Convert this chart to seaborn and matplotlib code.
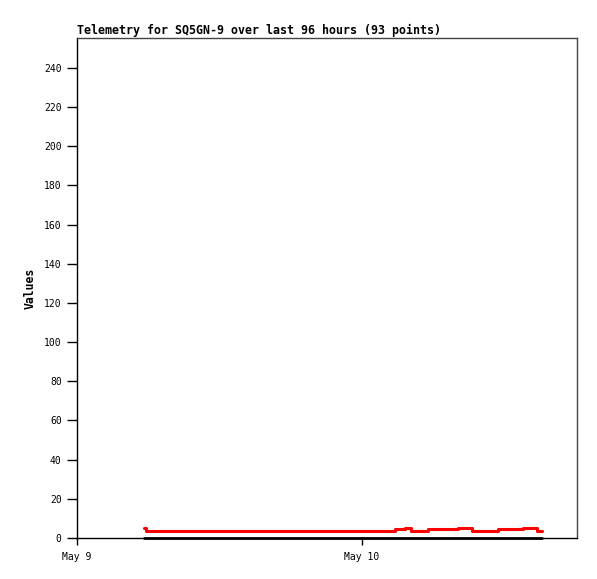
import matplotlib
matplotlib.use("Agg")
import matplotlib.pyplot as plt
import seaborn as sns
import pandas as pd

title = "Telemetry for SQ5GN-9 over last 96 hours (93 points)"
day0 = "2024-05-09"

# hours after May 9 00:00 where the values change (step breakpoints)
red_hours = [5.64, 5.80, 26.78, 27.62, 28.13, 29.56, 32.08, 33.26, 35.45, 37.56, 38.74, 39.16]
red_values = [5.0, 3.8, 4.4, 5.0, 3.8, 4.4, 5.0, 3.8, 4.4, 5.0, 3.8, 3.8]
black_hours = [5.64, 39.16]
black_values = [0, 0]

x_tick_hours = [0, 24]
x_tick_labels = ["May 9", "May 10"]
x_range_hours = [0, 42.1]
y_ticks = list(range(0, 241, 20))

sns.set_style("ticks")
plt.rcParams["font.family"] = ["DejaVu Sans Mono"]
plt.rcParams["text.color"] = "black"
plt.rcParams["axes.labelcolor"] = "black"

base = pd.Timestamp(day0)
df_red = pd.DataFrame({"time": base + pd.to_timedelta(red_hours, unit="h"), "value": red_values})
df_black = pd.DataFrame({"time": base + pd.to_timedelta(black_hours, unit="h"), "value": black_values})

fig = plt.figure(figsize=(5.97, 5.79), dpi=100)
ax = fig.add_axes([77 / 597, 1 - 538 / 579, 500 / 597, 500 / 579])

sns.lineplot(data=df_black, x="time", y="value", ax=ax, color="black", lw=2.0,
             drawstyle="steps-post", clip_on=False, zorder=3)
sns.lineplot(data=df_red, x="time", y="value", ax=ax, color="#ff0000", lw=2.2,
             drawstyle="steps-post", zorder=4)

ax.set_xlim(base + pd.to_timedelta(x_range_hours[0], unit="h"),
            base + pd.to_timedelta(x_range_hours[1], unit="h"))
ax.set_ylim(0, 255.3)
ax.set_xticks(base + pd.to_timedelta(x_tick_hours, unit="h"))
ax.set_xticklabels(x_tick_labels)
ax.set_yticks(y_ticks)

ax.tick_params(axis="y", direction="out", length=7, width=1, pad=4, labelsize=7, colors="black")
ax.tick_params(axis="x", direction="out", length=5, width=1, pad=5, labelsize=7, colors="black")

for s in ["left", "bottom"]:
    ax.spines[s].set_color("black")
    ax.spines[s].set_linewidth(1)
for s in ["top", "right"]:
    ax.spines[s].set_visible(True)
    ax.spines[s].set_color("#444444")
    ax.spines[s].set_linewidth(1)

ax.set_xlabel("")
ax.set_ylabel("Values", fontsize=8.3, fontweight="bold", labelpad=5)
ax.set_title(title, loc="left", fontsize=8.4, fontweight="bold", pad=3, color="black")

fig.savefig("out.png", dpi=100)
